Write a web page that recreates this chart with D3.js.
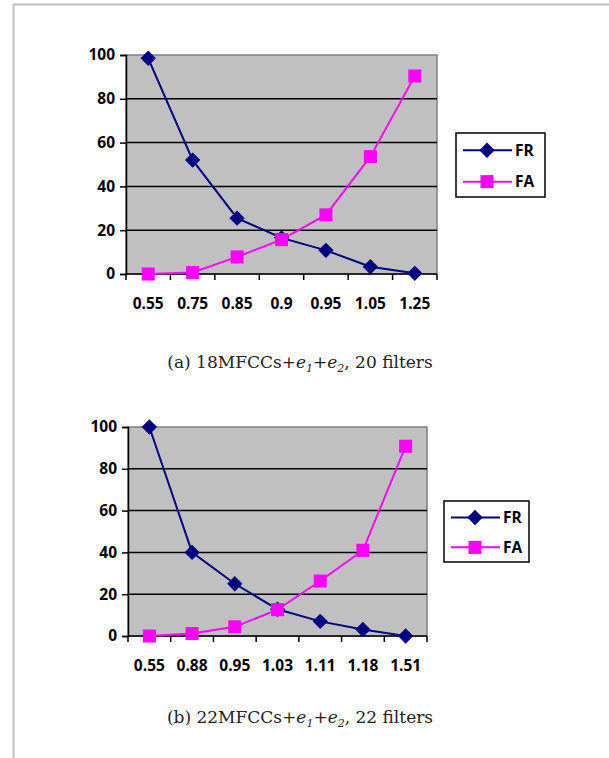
<!DOCTYPE html>
<html>
<head>
<meta charset="utf-8">
<script src="https://cdn.jsdelivr.net/npm/d3@7"></script>
<style>
  body { margin: 0; background: #fff; }
  svg { display: block; }
</style>
</head>
<body>
<svg id="fig"></svg>
<script>
const thresholdsA = ["0.55", "0.75", "0.85", "0.9", "0.95", "1.05", "1.25"];
const frA = [98.5, 52, 25.5, 16.5, 10.8, 3.3, 0.3];
const faA = [0, 0.7, 7.8, 15.7, 27, 53.6, 90.4];

const thresholdsB = ["0.55", "0.88", "0.95", "1.03", "1.11", "1.18", "1.51"];
const frB = [100, 40, 25, 12.8, 7, 3.1, 0];
const faB = [0, 1.2, 4.4, 12.6, 26.3, 41, 90.8];

const yTicks = [0, 20, 40, 60, 80, 100];
const seriesNames = ["FR", "FA"];

const W = 609, H = 758;
const svg = d3.select("#fig").attr("width", W).attr("height", H);

// page frame
svg.append("path")
  .attr("d", `M13.5,${H} V4.5 H${W}`)
  .attr("fill", "none").attr("stroke", "#c0c0c0").attr("stroke-width", 2);

const navy = "#000080", magenta = "#ff00ff";
const labelFont = "'Open Sans', Lato, sans-serif";
const diamond = d3.symbol().type(d3.symbolDiamond2).size(150);
const square = d3.symbol().type(d3.symbolSquare).size(170);

function drawChart(box, cats, fr, fa, legend) {
  const x = d3.scaleBand().domain(cats).range([box.left, box.right]);
  const y = d3.scaleLinear().domain([0, 100]).range([box.bottom, box.top]);
  const g = svg.append("g");

  g.append("rect")
    .attr("x", box.left).attr("y", box.top)
    .attr("width", box.right - box.left).attr("height", box.bottom - box.top)
    .attr("fill", "#c0c0c0").attr("stroke", "#808080").attr("stroke-width", 1.5);

  g.selectAll(".grid").data(yTicks.filter(d => d > 0 && d < 100)).enter()
    .append("line")
    .attr("x1", box.left).attr("x2", box.right)
    .attr("y1", d => y(d)).attr("y2", d => y(d))
    .attr("stroke", "#000").attr("stroke-width", 1.5);

  const yAxis = g.append("g")
    .attr("transform", `translate(${box.left},0)`)
    .call(d3.axisLeft(y).tickValues(yTicks).tickSize(6).tickPadding(5));
  const xAxis = g.append("g")
    .attr("transform", `translate(0,${box.bottom})`)
    .call(d3.axisBottom(x).tickSize(0).tickPadding(24));

  // tick marks at category boundaries
  const bounds = cats.map(c => x(c)).concat([box.right]);
  g.selectAll(".xt").data(bounds).enter().append("line")
    .attr("x1", d => d).attr("x2", d => d)
    .attr("y1", box.bottom).attr("y2", box.bottom + 6)
    .attr("stroke", "#000").attr("stroke-width", 1.5);

  [yAxis, xAxis].forEach(a => {
    a.select(".domain").attr("stroke", "#000").attr("stroke-width", 1.5);
    a.selectAll(".tick line").attr("stroke", "#000").attr("stroke-width", 1.5);
    a.selectAll("text")
      .attr("font-family", labelFont)
      .attr("font-weight", "bold").attr("font-size", 15.5).attr("fill", "#000");
  });
  xAxis.select(".domain").remove();
  g.append("line")
    .attr("x1", box.left).attr("x2", box.right)
    .attr("y1", box.bottom).attr("y2", box.bottom)
    .attr("stroke", "#000").attr("stroke-width", 1.5);

  const cx = c => x(c) + x.bandwidth() / 2;
  const line = d3.line().x((d, i) => cx(cats[i])).y(d => y(d));

  g.append("path").datum(fr).attr("d", line)
    .attr("fill", "none").attr("stroke", navy).attr("stroke-width", 2);
  g.append("path").datum(fa).attr("d", line)
    .attr("fill", "none").attr("stroke", magenta).attr("stroke-width", 2);

  g.selectAll(".fr").data(fr).enter().append("path")
    .attr("d", diamond).attr("fill", navy)
    .attr("transform", (d, i) => `translate(${cx(cats[i])},${y(d)})`);
  g.selectAll(".fa").data(fa).enter().append("path")
    .attr("d", square).attr("fill", magenta)
    .attr("transform", (d, i) => `translate(${cx(cats[i])},${y(d)})`);

  // legend
  const lg = g.append("g");
  lg.append("rect")
    .attr("x", legend.x).attr("y", legend.y)
    .attr("width", legend.w).attr("height", legend.h)
    .attr("fill", "#fff").attr("stroke", "#000").attr("stroke-width", 1.5);
  const rowY = [legend.y + legend.h * 0.27, legend.y + legend.h * 0.76];
  const colors = [navy, magenta];
  const syms = [diamond, square];
  seriesNames.forEach((name, i) => {
    lg.append("line")
      .attr("x1", legend.x + 7).attr("x2", legend.x + 56)
      .attr("y1", rowY[i]).attr("y2", rowY[i])
      .attr("stroke", colors[i]).attr("stroke-width", 2);
    lg.append("path").attr("d", syms[i]).attr("fill", colors[i])
      .attr("transform", `translate(${legend.x + 31},${rowY[i]})`);
    lg.append("text")
      .attr("x", legend.x + 59).attr("y", rowY[i] + 5.5)
      .attr("font-family", labelFont)
      .attr("font-weight", "bold").attr("font-size", 15.5)
      .text(name);
  });
}

function caption(xc, yb, label, n, filters) {
  const t = svg.append("text")
    .attr("x", xc).attr("y", yb).attr("text-anchor", "middle")
    .attr("font-family", "'DejaVu Serif', serif").attr("font-size", 17)
    .attr("fill", "#222");
  t.append("tspan").text(`${label} ${n}MFCCs+`);
  t.append("tspan").attr("font-style", "italic").text("e");
  t.append("tspan").attr("font-style", "italic").attr("font-size", 11).attr("dy", 4).text("1");
  t.append("tspan").attr("dy", -4).text("+");
  t.append("tspan").attr("font-style", "italic").text("e");
  t.append("tspan").attr("font-style", "italic").attr("font-size", 11).attr("dy", 4).text("2");
  t.append("tspan").attr("dy", -4).text(`, ${filters} filters`);
}

drawChart({ left: 126, right: 437, top: 55, bottom: 274 },
  thresholdsA, frA, faA, { x: 456, y: 133, w: 89, h: 64 });
drawChart({ left: 128, right: 427, top: 427, bottom: 636 },
  thresholdsB, frB, faB, { x: 444, y: 501, w: 85, h: 61 });

caption(300, 368, "(a)", 18, 20);
caption(300, 723, "(b)", 22, 22);
</script>
</body>
</html>
